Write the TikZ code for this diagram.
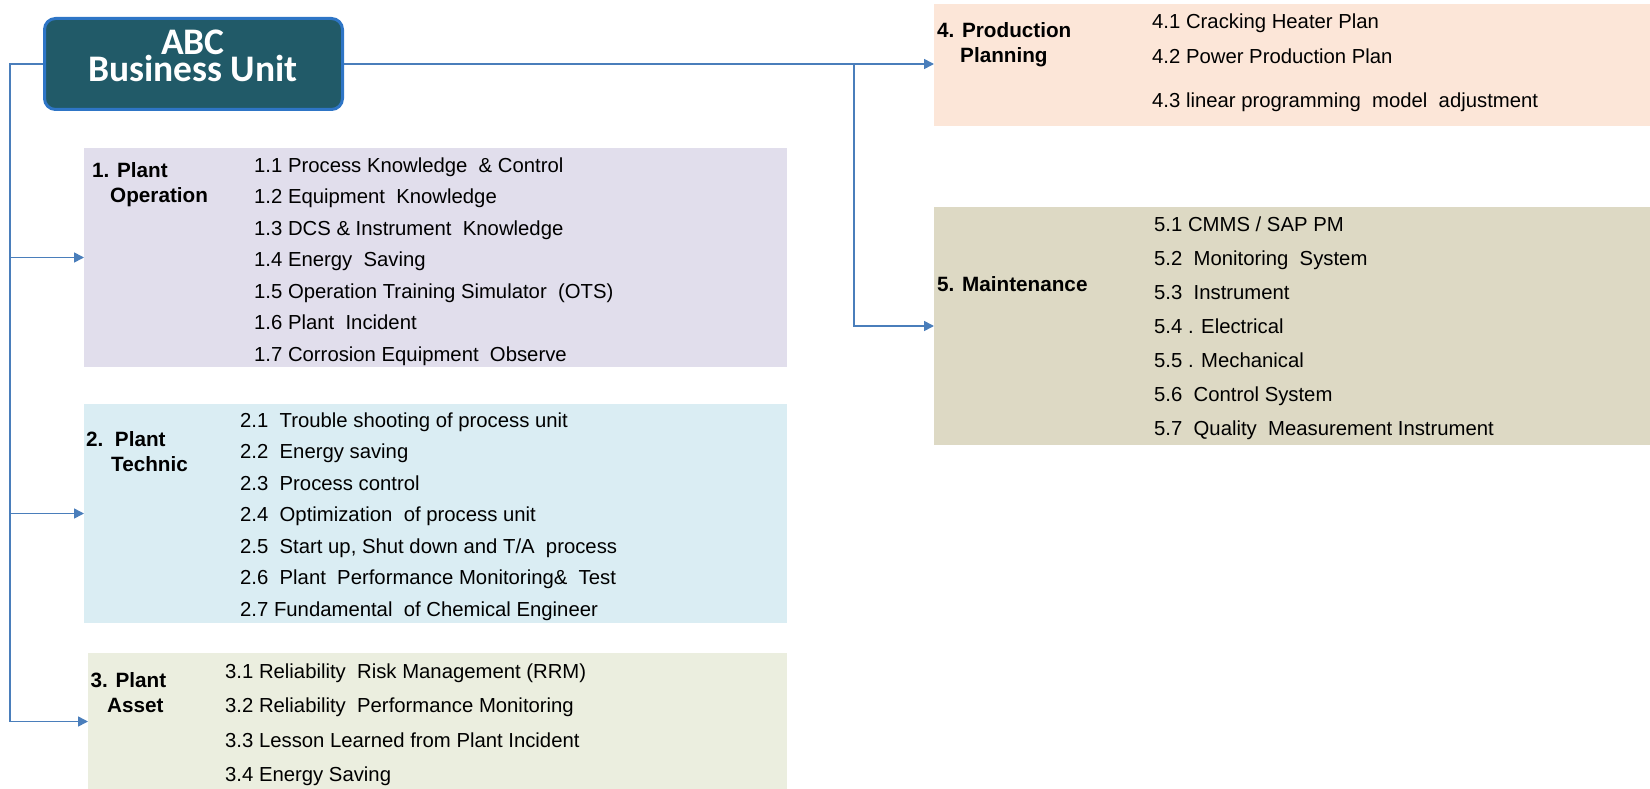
\documentclass[tikz,border=0pt]{standalone}
\usepackage{fontspec}
\setmainfont{Liberation Sans}
\newfontfamily\headfont{Carlito}
\usetikzlibrary{arrows.meta}
\definecolor{conn}{HTML}{4A7EBB}
\definecolor{abcfill}{HTML}{215A68}
\definecolor{abcedge}{HTML}{2E75C6}
\definecolor{boxA}{HTML}{E1DEEC}
\definecolor{boxB}{HTML}{DAEDF3}
\definecolor{boxC}{HTML}{EBEEDF}
\definecolor{boxD}{HTML}{FCE6D8}
\definecolor{boxE}{HTML}{DDD9C4}
\tikzset{
  panel/.style={draw=none, anchor=north west, inner sep=0pt, outer sep=0pt},
  item/.style={anchor=base west, inner sep=0pt, font=\fontsize{20.3}{24}\selectfont},
  head/.style={anchor=base west, inner sep=0pt, font=\bfseries\fontsize{20.7}{25}\selectfont},
  abctxt/.style={anchor=base, inner sep=0pt, text=white, font=\headfont\bfseries\fontsize{37.5}{27}\selectfont},
  line/.style={draw=conn, line width=1.6pt},
  arr/.style={line, -{Triangle[length=10pt,width=10pt]}},
}
\begin{document}
\begin{tikzpicture}[x=1pt,y=-1pt]
\useasboundingbox (0,0) rectangle (1650,789);
% panels
\node[panel, fill=boxA, minimum width=703pt, minimum height=219pt] (p1) at (84,148) {};
\node[panel, fill=boxB, minimum width=703pt, minimum height=219pt] (p2) at (84,404) {};
\node[panel, fill=boxC, minimum width=699pt, minimum height=137pt] (p3) at (88,653) {};
\node[panel, fill=boxD, minimum width=716pt, minimum height=122pt] (p4) at (934,4) {};
\node[panel, fill=boxE, minimum width=716pt, minimum height=238pt] (p5) at (934,207) {};
% ABC box
\node[draw=abcedge, fill=abcfill, line width=3pt, rounded corners=11pt,
      minimum width=298pt, minimum height=91pt, anchor=center, inner sep=0pt] (abc) at (193.5,64) {};
\node[abctxt, text depth=0pt] (abct1) at (193,55) {ABC};
\node[abctxt, text height=23pt] (abct2) at (193,82) {Business Unit};
% connectors
\coordinate (trunk) at (10,0);
\coordinate (branch) at (854,0);
\draw[arr] (abc.west) -| (trunk |- p3.west) -- (p3.west);
\draw[arr] (trunk |- p1.west) -- (p1.west);
\draw[arr] (trunk |- p2.west) -- (p2.west);
\draw[arr] (abc.east) -- (abc.east -| p4.west);
\draw[arr] (branch |- abc.east) |- (p5.west);
% panel 1
\node[head] (h1a) at (92,178) {1. Plant};
\node[head] (h1b) at (110,203) {Operation};
\node[item] (i11) at (254,172) {1.1 Process Knowledge\ \ \& Control};
\node[item] (i12) at (254,203.5) {1.2 Equipment\ \ Knowledge};
\node[item] (i13) at (254,235) {1.3 DCS \& Instrument\ \ Knowledge};
\node[item] (i14) at (254,266.5) {1.4 Energy\ \ Saving};
\node[item] (i15) at (254,298) {1.5 Operation Training Simulator\ \ (OTS)};
\node[item] (i16) at (254,329.5) {1.6 Plant\ \ Incident};
\node[item] (i17) at (254,361) {1.7 Corrosion Equipment\ \ Observe};
% panel 2
\node[head] (h2a) at (86,446) {2.\ \ Plant};
\node[head] (h2b) at (111,471) {Technic};
\node[item] (i21) at (240,427) {2.1\ \ Trouble shooting of process unit};
\node[item] (i22) at (240,458.5) {2.2\ \ Energy saving};
\node[item] (i23) at (240,490) {2.3\ \ Process control};
\node[item] (i24) at (240,521.5) {2.4\ \ Optimization\ \ of process unit};
\node[item] (i25) at (240,553) {2.5\ \ Start up, Shut down and T/A\ \ process};
\node[item] (i26) at (240,584.5) {2.6\ \ Plant\ \ Performance Monitoring\& \ Test};
\node[item] (i27) at (240,616) {2.7 Fundamental\ \ of Chemical Engineer};
% panel 3
\node[head] (h3a) at (90.5,687) {3. Plant};
\node[head] (h3b) at (107,712) {Asset};
\node[item] (i31) at (225,678) {3.1 Reliability\ \ Risk Management (RRM)};
\node[item] (i32) at (225,712) {3.2 Reliability\ \ Performance Monitoring};
\node[item] (i33) at (225,747) {3.3 Lesson Learned from Plant Incident};
\node[item] (i34) at (225,781.5) {3.4 Energy Saving};
% panel 4
\node[head] (h4a) at (937,37.5) {4. Production};
\node[head] (h4b) at (960,63) {Planning};
\node[item] (i41) at (1152,29) {4.1 Cracking Heater Plan};
\node[item] (i42) at (1152,64) {4.2 Power Production Plan};
\node[item] (i43) at (1152,107.5) {4.3 linear programming\ \ model\ \ adjustment};
% panel 5
\node[head] (h5a) at (937,291.5) {5. Maintenance};
\node[item] (i51) at (1154,231.5) {5.1 CMMS / SAP PM};
\node[item] (i52) at (1154,265.5) {5.2\ \ Monitoring\ \ System};
\node[item] (i53) at (1154,299.5) {5.3\ \ Instrument};
\node[item] (i54) at (1154,333.5) {5.4 . Electrical};
\node[item] (i55) at (1154,367.5) {5.5 . Mechanical};
\node[item] (i56) at (1154,401.5) {5.6\ \ Control System};
\node[item] (i57) at (1154,435.5) {5.7\ \ Quality\ \ Measurement Instrument};
\end{tikzpicture}
\end{document}
